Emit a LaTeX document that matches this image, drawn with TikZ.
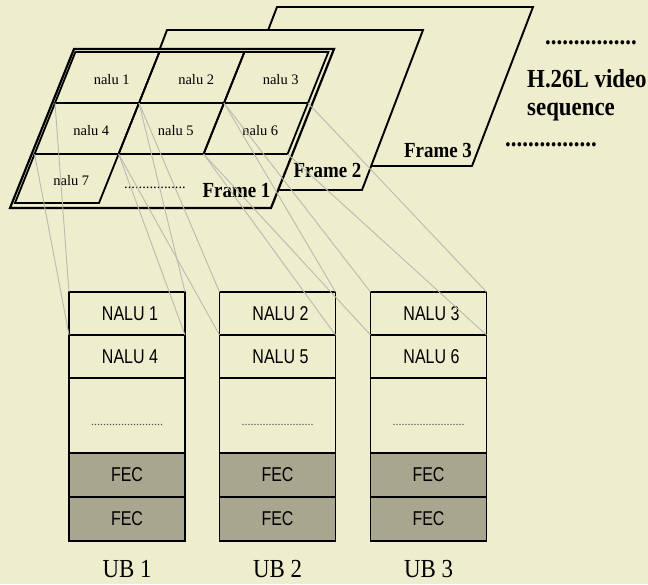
\documentclass[tikz,border=0pt]{standalone}
\usepackage{fontspec}
\setmainfont{Liberation Serif}
\newfontfamily\vidserif[FakeStretch=0.88]{Liberation Serif}
\newfontfamily\vidsans[FakeStretch=0.8]{Liberation Sans}
\usepackage{xcolor}
\definecolor{vidbg}{RGB}{238,237,205}
\definecolor{vidfecgray}{RGB}{168,166,142}
\definecolor{vidgrey}{RGB}{186,186,176}
\usetikzlibrary{positioning,calc}

\begin{document}
\begin{tikzpicture}[x=1pt,y=-1pt,
  vidframe/.style={draw,line width=1.9pt,fill=vidbg,line join=miter},
  vidcell/.style={draw,line width=1.8pt},
  vidcelltxt/.style={font=\fontsize{14.5}{14.5}\selectfont,inner sep=0pt},
  vidfrtxt/.style={font=\vidserif\bfseries\fontsize{21.5}{21.5}\selectfont,inner sep=0pt},
  vidseqtxt/.style={font=\vidserif\bfseries\fontsize{26}{26}\selectfont,inner sep=0pt},
  vidbox/.style={draw,line width=1.4pt,minimum width=116pt,minimum height=43pt,
    inner sep=0pt,outer sep=0pt,font=\vidsans\fontsize{20}{20}\selectfont},
  vidfec/.style={vidbox,fill=vidfecgray,minimum height=44pt},
  vidubtxt/.style={font=\vidserif\fontsize{26}{26}\selectfont,inner sep=0pt},
  vidline/.style={draw=vidgrey,line width=0.9pt}
]
  \useasboundingbox (0,0) rectangle (648,584);
  \fill[vidbg] (0,0) rectangle (648,584);

  % Video frames, back to front
  \draw[vidframe] (277,7) -- (533,7) -- (472,166) -- (216,166) -- cycle;
  \draw[vidframe] (167,30) -- (423,30) -- (362,190) -- (106,190) -- cycle;
  \draw[vidframe,line width=2.2pt] (74,49) -- (334,49) -- (271,208) -- (10,208) -- cycle;

  % Slice grid of frame 1
  \foreach \r/\y in {0/52,1/103,2/154,3/203}
    \foreach \c/\x in {0/55,1/139,2/224,3/308}
      \coordinate (g\r-\c) at ({\x+(103-\y)*0.4},\y);
  \foreach \r/\c/\n in {0/0/1,0/1/2,0/2/3,1/0/4,1/1/5,1/2/6,2/0/7} {
    \pgfmathtruncatemacro{\rr}{\r+1}
    \pgfmathtruncatemacro{\d}{\c+1}
    \draw[vidcell] (g\r-\c) -- (g\r-\d) -- (g\rr-\d) -- (g\rr-\c) -- cycle;
    \node[vidcelltxt] (nl\n) at ($(g\r-\c)!0.5!(g\rr-\d)+(4.5,2.5)$) {nalu \n};
  }
  \node[vidcelltxt] (fr1dots) at (155,188) {.................};

  % Frame labels
  \node[vidfrtxt] (fr1) at (236.5,191) {Frame 1};
  \node[vidfrtxt] (fr2) at (327.5,170) {Frame 2};
  \node[vidfrtxt] (fr3) at (438,150) {Frame 3};

  % Sequence caption
  \node[vidseqtxt,anchor=west] (seqdotsa) at (545,43) {................};
  \node[vidseqtxt,anchor=base west] (seqa) at (527,87) {H.26L video};
  \node[vidseqtxt,anchor=base west] (seqb) at (527,115) {sequence};
  \node[vidseqtxt,anchor=west] (seqdotsb) at (505,145) {................};

  % UB columns
  \foreach \k/\x/\a/\b in {1/127/1/4,2/277.5/2/5,3/428.5/3/6} {
    \node[vidbox,anchor=north] (nalu\a) at (\x,292) {\hspace*{6pt}NALU \a};
    \node[vidbox,below=0pt of nalu\a] (nalu\b) {\hspace*{6pt}NALU \b};
    \node[vidbox,minimum height=75pt,below=0pt of nalu\b] (rest\k) {};
    \node[font=\fontsize{12}{12}\selectfont,text=black!70,inner sep=0pt]
      (restdots\k) at ($(rest\k.center)+(0,9)$) {........................};
    \node[vidfec,below=0pt of rest\k] (feca\k) {FEC};
    \node[vidfec,below=0pt of feca\k] (fecb\k) {FEC};
    \node[vidubtxt,anchor=base] (ub\k) at (\x,577) {UB \k};
  }

  % Slice to unit block links
  \foreach \k/\a/\b/\p in {1/1/4/0,2/2/5/1,3/3/6/2} {
    \draw[vidline] (g1-\p) -- (nalu\a.north west);
    \draw[vidline] (g1-\k) -- (nalu\a.north east);
    \draw[vidline] (g2-\p) -- (nalu\b.north west);
    \draw[vidline] (g2-\k) -- (nalu\b.north east);
  }
\end{tikzpicture}
\end{document}
